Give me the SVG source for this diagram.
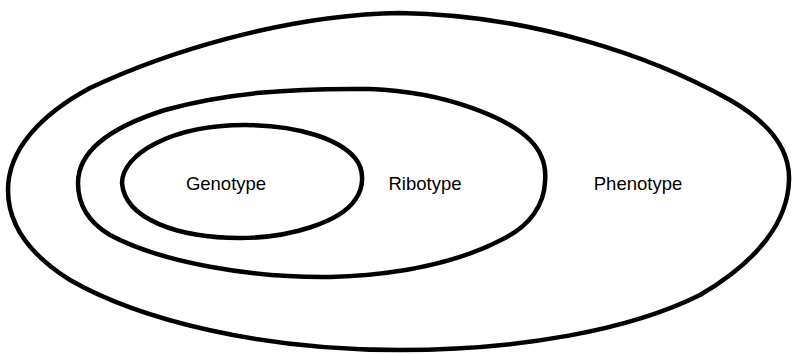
<svg xmlns="http://www.w3.org/2000/svg" width="793" height="354" viewBox="0 0 793 354">
<style>
.ring{fill:none;stroke:#000;stroke-width:4.5;stroke-linejoin:round}
.lbl{font-family:"Liberation Sans",Arial,sans-serif;font-size:18.5px;fill:#000;text-anchor:middle}
</style>
<rect width="793" height="354" fill="#fff"/>
<g id="phenotype">
<path class="ring" d="M 400,13 C 530,15 650,55 730,100 C 770,123 790,150 789,180 C 788,220 760,260 700,295 C 630,330 520,350 400,350 C 260,350 140,320 70,280 C 30,255 8,225 8,190 C 8,150 40,115 90,88 C 160,55 280,15 400,13 Z"/>
<text class="lbl" x="638" y="190">Phenotype</text>
</g>
<g id="ribotype">
<path class="ring" d="M 78,183 C 78,152 108,128 165,110 C 225,93 290,88 370,89 C 450,92 510,120 530,140 C 545,155 546,172 545,182 C 544,205 530,225 505,238 C 460,262 400,275 330,277 C 250,278 160,262 110,235 C 88,222 78,205 78,183 Z"/>
<text class="lbl" x="425" y="190">Ribotype</text>
</g>
<g id="genotype">
<path class="ring" d="M 122,183 C 122,155 170,125 245,125 C 300,125 340,140 355,158 C 365,170 364,188 355,200 C 340,222 290,238 240,238 C 180,238 125,220 122,183 Z"/>
<text class="lbl" x="226" y="190">Genotype</text>
</g>
</svg>
